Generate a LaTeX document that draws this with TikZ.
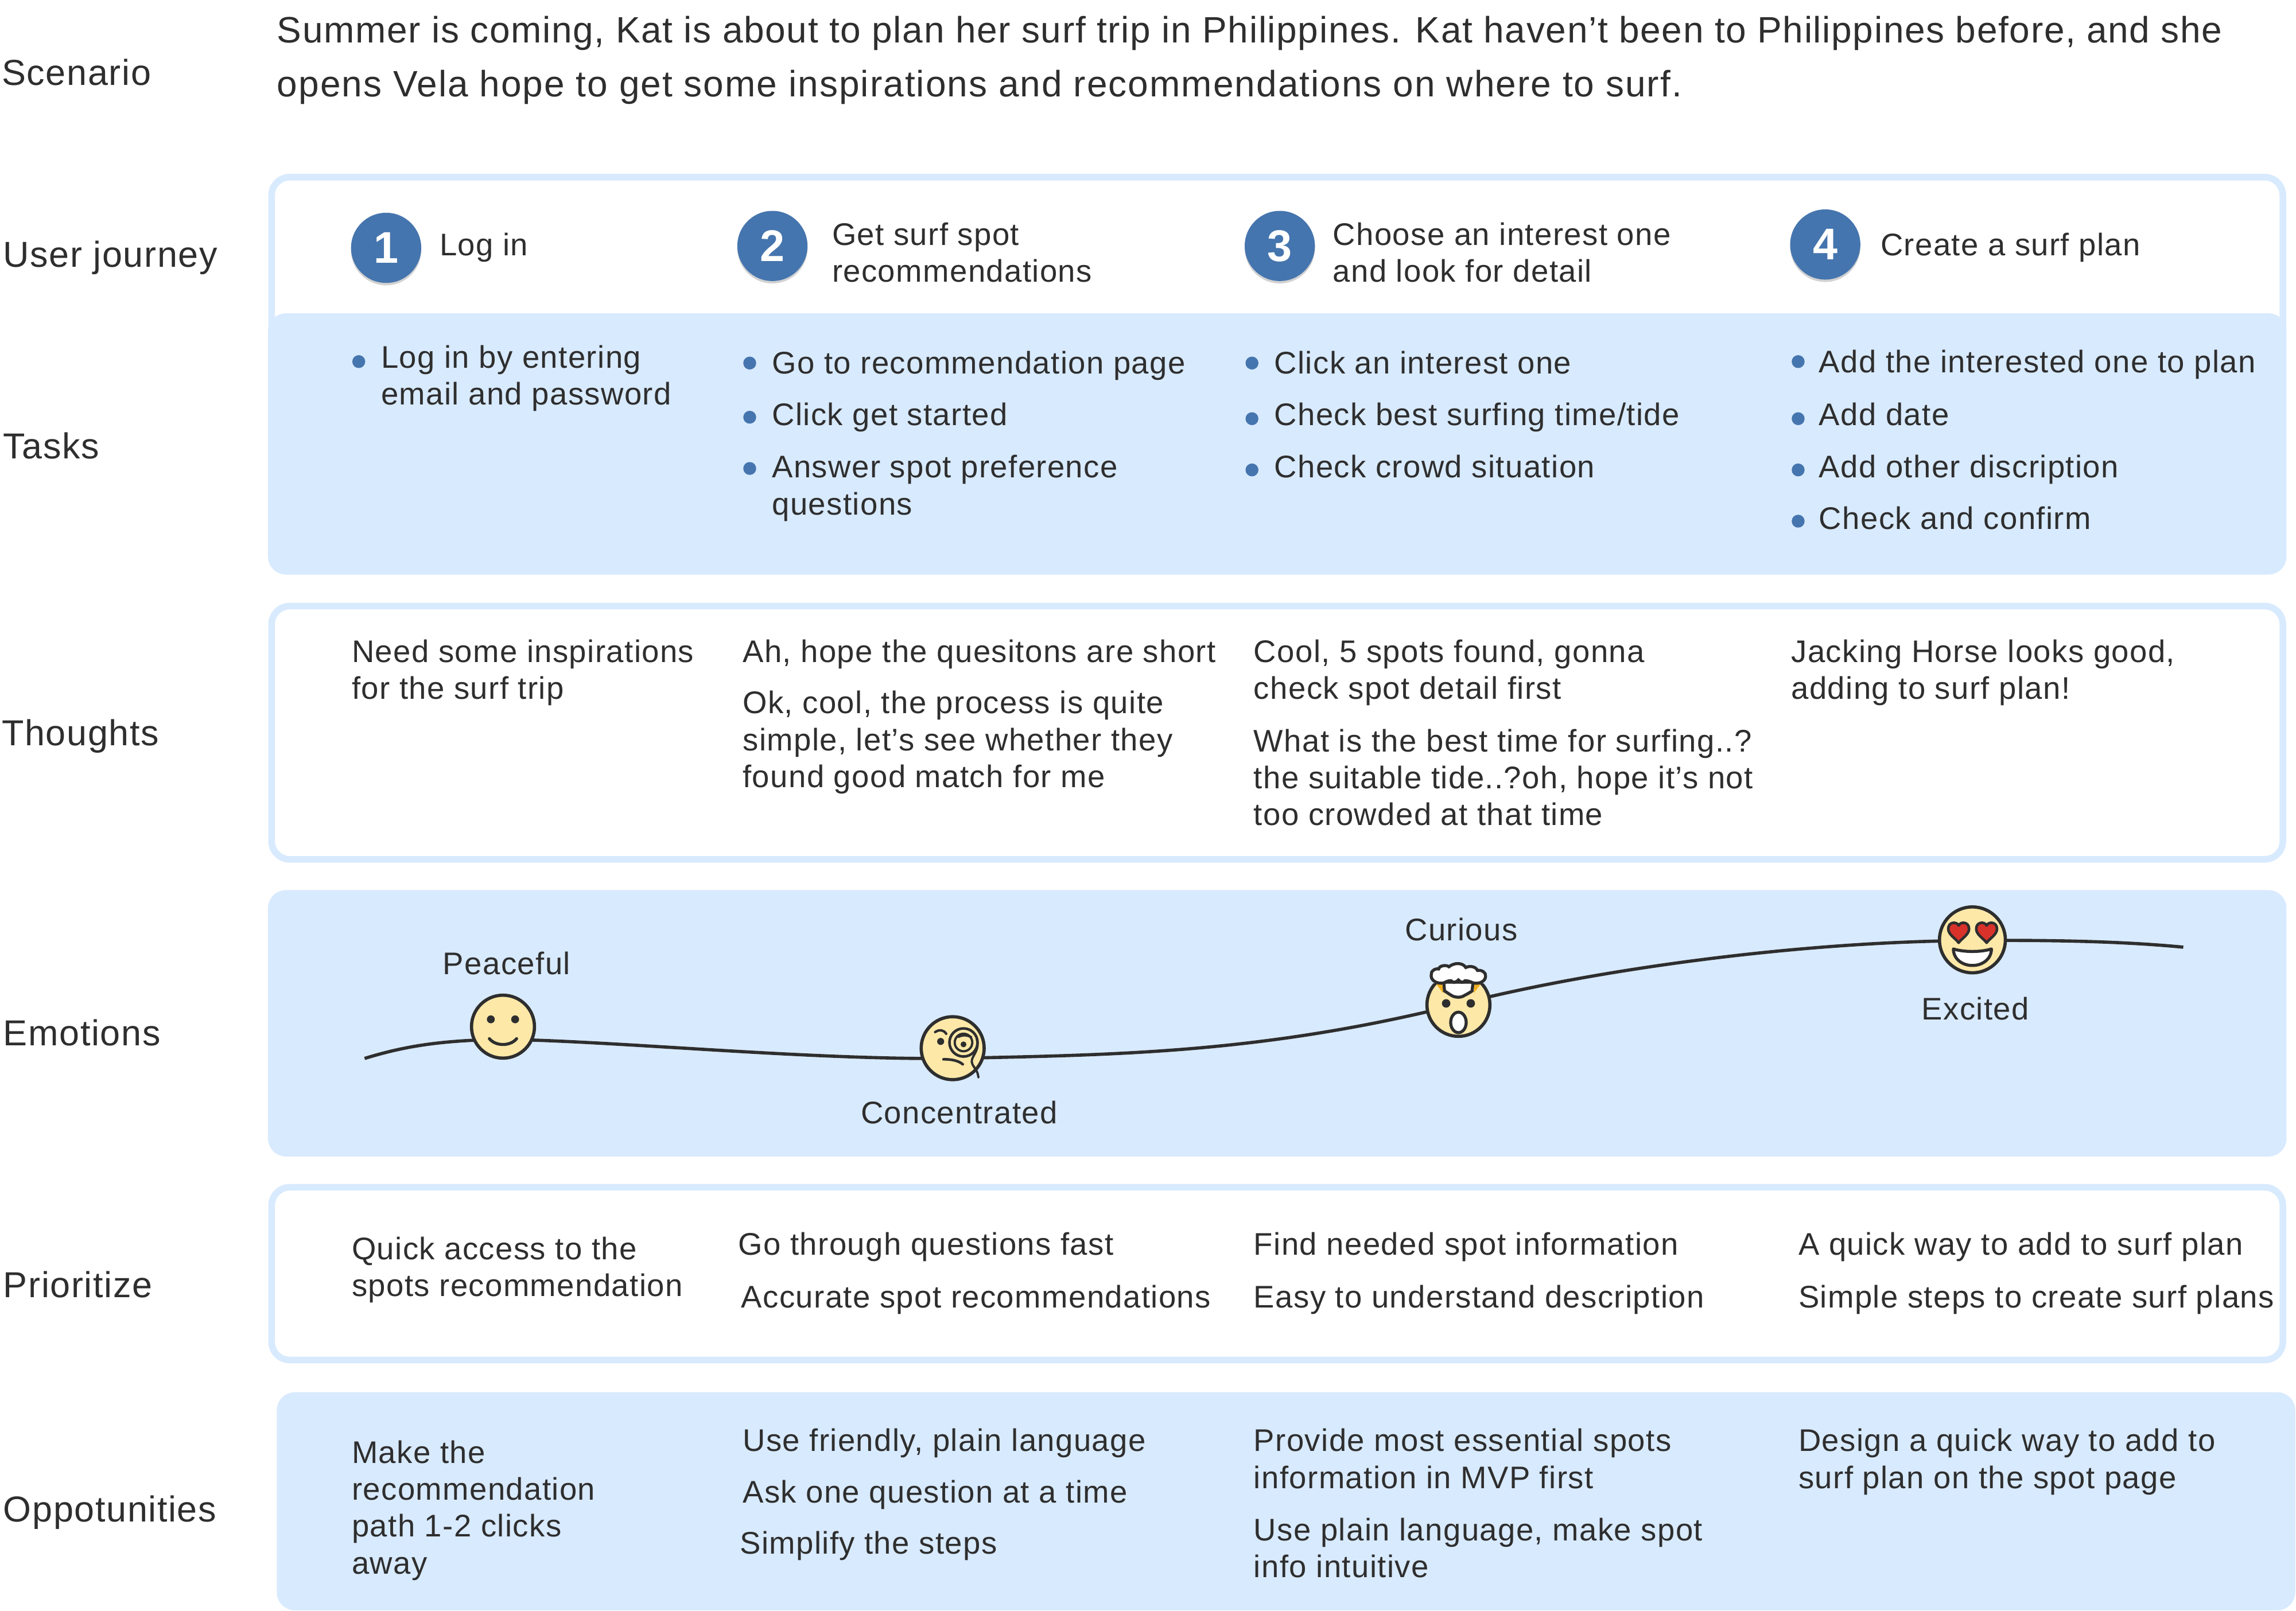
\documentclass[tikz,border=0pt]{standalone}
\usepackage{fontspec}
\setmainfont[LetterSpace=2.6]{Liberation Sans}
\usetikzlibrary{shadows}
\definecolor{pale}{HTML}{D8EAFE}
\definecolor{ink}{HTML}{2E2E2E}
\definecolor{mid}{HTML}{4575AE}
\definecolor{sun}{HTML}{FDE8A8}
\definecolor{heart}{HTML}{D8322A}
\definecolor{amber}{HTML}{F2AE1C}
\newcommand\ml[1]{\begin{tabular}[t]{@{}l@{}}#1\end{tabular}}
\tikzset{
 x=0.0255166cm,y=-0.0255166cm,
 outlinebox/.style={draw=pale,line width=3.3pt,fill=white,rounded corners=9pt},
 palebox/.style={fill=pale,rounded corners=9pt},
 txt/.style={anchor=base west,inner sep=0pt,text=ink,yshift=0.4pt,font=\fontsize{15.5}{18.3}\selectfont},
 ctxt/.style={anchor=base,inner sep=0pt,text=ink,yshift=0.4pt,font=\fontsize{15.5}{18.3}\selectfont},
 rowlabel/.style={anchor=base west,inner sep=0pt,text=ink,yshift=0.5pt,font=\fontsize{17.9}{22}\selectfont},
 lead/.style={anchor=base west,inner sep=0pt,text=ink,font=\fontsize{18.2}{26.8}\selectfont},
 bul/.style={circle,fill=mid,inner sep=0pt,minimum size=6.4pt},
 num/.style={circle,fill=mid,inner sep=0pt,minimum size=34.8pt,text=white,font=\fontsize{22}{24}\selectfont\bfseries,drop shadow={shadow xshift=0pt,shadow yshift=-1.2pt,opacity=.35}},
 face/.style={draw=ink,fill=sun,line width=1.6pt},
 feat/.style={draw=ink,line width=1.5pt,line cap=round},
 dot/.style={fill=ink},
 mood/.style={draw=ink,line width=1.6pt},
}
\begin{document}
\begin{tikzpicture}
\useasboundingbox (0,0) rectangle (1568,1100.45);
% panels
\draw[outlinebox] (185.5,121) rectangle (1559,390);
\path[palebox] (183,214) rectangle (1561.5,392.5);
\draw[outlinebox] (185.5,414) rectangle (1559,587);
\path[palebox] (183,608) rectangle (1561.5,790);
\draw[outlinebox] (185.5,811) rectangle (1559,929);
\path[palebox] (189,951) rectangle (1567.5,1100);
% row labels
\node[rowlabel] (lScenario) at (1,59) {Scenario};
\node[rowlabel] (lJourney) at (2,183) {User journey};
\node[rowlabel] (lTasks) at (2,314) {Tasks};
\node[rowlabel] (lThoughts) at (1,510) {Thoughts};
\node[rowlabel] (lEmotions) at (2,715) {Emotions};
\node[rowlabel] (lPrior) at (2,887) {Prioritize};
\node[rowlabel] (lOpp) at (2,1040) {Oppotunities};
\node[lead] (scenario) at (189,29) {\ml{Summer is coming, Kat is about to plan her surf trip in Philippines. Kat haven’t been to Philippines before, and she\\\addfontfeature{LetterSpace=3.2}opens Vela hope to get some inspirations and recommendations on where to surf.}};
% journey heads
\node[num] (n1) at (263.7,169.3) {1};
\node[num] (n2) at (527.5,168) {2};
\node[num] (n3) at (874,168) {3};
\node[num] (n4) at (1246.5,167) {4};
\node[txt] (h1) at (300,175) {Log in};
\node[txt] (h2) at (568,168) {\ml{Get surf spot\\recommendations}};
\node[txt] (h3) at (910,168) {\ml{Choose an interest one\\and look for detail}};
\node[txt] (h4) at (1284,175) {Create a surf plan};
% tasks
\node[bul] (b11) at (245,247) {};
\node[txt] (t11) at (260,252) {\ml{Log in by entering\\email and password}};
\node[bul] (b21) at (512,248) {};
\node[bul] (b22) at (512,285) {};
\node[bul] (b23) at (512,320) {};
\node[txt] (t21) at (527,256) {Go to recommendation page};
\node[txt] (t22) at (527,291) {Click get started};
\node[txt] (t23) at (527,327) {\ml{Answer spot preference\\questions}};
\node[bul] (b31) at (855,248) {};
\node[bul] (b32) at (855,286) {};
\node[bul] (b33) at (855,321) {};
\node[txt] (t31) at (870,256) {Click an interest one};
\node[txt] (t32) at (870,291) {Check best surfing time/tide};
\node[txt] (t33) at (870,327) {Check crowd situation};
\node[bul] (b41) at (1228,247) {};
\node[bul] (b42) at (1228,286) {};
\node[bul] (b43) at (1228,321) {};
\node[bul] (b44) at (1228,356) {};
\node[txt] (t41) at (1242,255) {Add the interested one to plan};
\node[txt] (t42) at (1242,291) {Add date};
\node[txt] (t43) at (1242,327) {Add other discription};
\node[txt] (t44) at (1242,362) {Check and confirm};
% thoughts
\node[txt] (th1) at (240,453) {\ml{Need some inspirations\\for the surf trip}};
\node[txt] (th2a) at (507,453) {Ah, hope the quesitons are short};
\node[txt] (th2b) at (507,488) {\ml{Ok, cool, the process is quite\\simple, let’s see whether they\\found good match for me}};
\node[txt] (th3a) at (856,453) {\ml{Cool, 5 spots found, gonna\\check spot detail first}};
\node[txt] (th3b) at (856,514) {\ml{What is the best time for surfing..?\\the suitable tide..?oh, hope it’s not\\too crowded at that time}};
\node[txt] (th4) at (1223,453) {\ml{Jacking Horse looks good,\\adding to surf plan!}};
% emotions curve
\coordinate (c0) at (249,723);
\coordinate (c1) at (344,710);
\coordinate (c2) at (650,723);
\coordinate (c3) at (996,686);
\coordinate (c4) at (1347,642.5);
\coordinate (c5) at (1491,647);
\draw[mood] (c0) .. controls (275,715) and (300,710.5) .. (c1)
  .. controls (420,711) and (550,724) .. (c2)
  .. controls (760,720.5) and (860,720) .. (c3)
  .. controls (1090,662) and (1230,643) .. (c4)
  .. controls (1400,642) and (1450,643) .. (c5);
% peaceful
\begin{scope}[shift={(343.5,701.3)}]
 \draw[face] (0,0) circle[radius=21.5];
 \fill[dot] (-8.3,-5) circle[radius=2.7] (8.3,-5) circle[radius=2.7];
 \draw[feat] (-9.3,8.2) .. controls (-5,13.5) and (5,13.5) .. (9.3,8.2);
\end{scope}
% concentrated
\begin{scope}[shift={(650.6,716)}]
 \draw[face] (0,0) circle[radius=21.5];
 \fill[dot] (-8.2,-4.6) circle[radius=2.4];
 \draw[feat,line width=1.2pt] (-12,-11) .. controls (-9,-13) and (-6,-12.5) .. (-4.4,-9.8);
 \draw[feat,fill=sun,line width=1.3pt] (7.4,-3.9) circle[radius=9.6];
 \draw[feat,line width=1.1pt] (7.4,-3.9) circle[radius=6];
 \fill[dot] (7.4,-2.6) circle[radius=2];
 \draw[feat,line width=1.2pt] (4,-7.8) .. controls (7,-9.3) and (10,-9) .. (12.6,-7.6);
 \draw[feat,line width=1.3pt] (-6.3,7.6) .. controls (-1,7.5) and (4,8.5) .. (6.9,11);
 \draw[feat,line width=1.1pt] (16.5,-6) .. controls (19,3) and (11,6) .. (13.5,11) .. controls (15,14) and (17,15) .. (17.6,20);
\end{scope}
% curious
\begin{scope}[shift={(996,686.4)}]
 \begin{scope}
  \clip (-30,-14.5) rectangle (30,30);
  \draw[face] (0,0) circle[radius=21.5];
 \end{scope}
 \fill[amber] (-15,-14) -- (-11,-14) -- (-10.5,-8) -- cycle (15,-14) -- (11,-14) -- (10.5,-8) -- cycle;
 \fill[dot] (-8.4,-1) circle[radius=2.9] (8.4,-1) circle[radius=2.9];
 \draw[feat,fill=white] (0,12) ellipse[x radius=5.3,y radius=7];
 \draw[feat,fill=white] (-10,-15.5) -- (-9.5,-9.5) .. controls (-7,-8) and (-6,-7) .. (-3.5,-5.8) .. controls (-1,-5) and (1,-5) .. (3,-5.8) .. controls (5,-7) and (6.5,-7.5) .. (9.3,-9.5) -- (10,-15.5) -- cycle;
 \draw[feat,fill=white] (-10,-15) .. controls (-15,-14) and (-19.5,-17) .. (-18.5,-21)
   .. controls (-18.5,-24) and (-15,-25) .. (-13.5,-24.5)
   .. controls (-13,-27) and (-8,-27.5) .. (-6.5,-26)
   .. controls (-3,-29) and (3,-29) .. (5,-25.5)
   .. controls (8,-27) and (12,-26) .. (13,-23.5)
   .. controls (16,-24) and (19,-22) .. (18.5,-19.5)
   .. controls (18.5,-16) and (14,-14) .. (10,-15)
   .. controls (8,-16) and (6,-16.5) .. (4.5,-16.5)
   .. controls (3,-15) and (2,-15) .. (0,-17)
   .. controls (-2,-15) and (-4,-15) .. (-5,-16.5)
   .. controls (-7,-16.5) and (-8,-16) .. (-10,-15) -- cycle;
\end{scope}
% excited
\begin{scope}[shift={(1347,642)}]
 \draw[face] (0,0) circle[radius=22.5];
 \draw[feat,fill=heart,line width=1.3pt,line join=round] (-9.4,-9.8) .. controls (-10.5,-12.6) and (-16.5,-12.6) .. (-16.5,-7.5) .. controls (-16.5,-3.5) and (-11.5,-1) .. (-9.4,2) .. controls (-7.3,-1) and (-2.3,-3.5) .. (-2.3,-7.5) .. controls (-2.3,-12.6) and (-8.3,-12.6) .. (-9.4,-9.8) -- cycle;
 \draw[feat,fill=heart,line width=1.3pt,line join=round] (9.7,-9.8) .. controls (8.6,-12.6) and (2.6,-12.6) .. (2.6,-7.5) .. controls (2.6,-3.5) and (7.6,-1) .. (9.7,2) .. controls (11.8,-1) and (16.8,-3.5) .. (16.8,-7.5) .. controls (16.8,-12.6) and (10.8,-12.6) .. (9.7,-9.8) -- cycle;
 \draw[feat,fill=white,line join=round] (-13,6.2) .. controls (-6,8.5) and (6,8.5) .. (13,6.2) .. controls (13,13) and (7,17.5) .. (0,17.5) .. controls (-7,17.5) and (-13,13) .. (-13,6.2) -- cycle;
\end{scope}
\node[ctxt] (e1) at (346,666) {Peaceful};
\node[ctxt] (e2) at (655,768) {Concentrated};
\node[ctxt] (e3) at (998,643) {Curious};
\node[ctxt] (e4) at (1349,697) {Excited};
% prioritize
\node[txt] (p1) at (240,861) {\ml{Quick access to the\\spots recommendation}};
\node[txt] (p2a) at (504,858) {Go through questions fast};
\node[txt] (p2b) at (506,894) {Accurate spot recommendations};
\node[txt] (p3a) at (856,858) {Find needed spot information};
\node[txt] (p3b) at (856,894) {Easy to understand description};
\node[txt] (p4a) at (1228,858) {A quick way to add to surf plan};
\node[txt] (p4b) at (1228,894) {Simple steps to create surf plans};
% opportunities
\node[txt] (o1) at (240,1000) {\ml{Make the\\recommendation\\path 1-2 clicks\\away}};
\node[txt] (o2a) at (507,992) {Use friendly, plain language};
\node[txt] (o2b) at (507,1027) {Ask one question at a time};
\node[txt] (o2c) at (505,1062) {Simplify the steps};
\node[txt] (o3a) at (856,992) {\ml{Provide most essential spots\\information in MVP first}};
\node[txt] (o3b) at (856,1053) {\ml{Use plain language, make spot\\info intuitive}};
\node[txt] (o4) at (1228,992) {\ml{Design a quick way to add to\\surf plan on the spot page}};
\end{tikzpicture}
\end{document}
